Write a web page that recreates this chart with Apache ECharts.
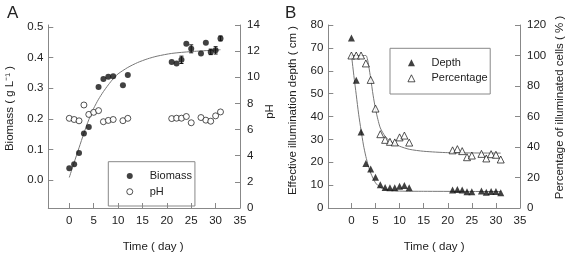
<!DOCTYPE html>
<html>
<head>
<meta charset="utf-8">
<script src="https://cdn.jsdelivr.net/npm/echarts@6/dist/echarts.min.js"></script>
<style>
html, body { margin: 0; padding: 0; background: #fff; }
#chart { width: 567px; height: 258px; }
</style>
</head>
<body>
<div id="chart"></div>
<script>
// ---- panel A: biomass and pH ----
var biomassDays = [0, 1, 2, 3, 4, 6, 7, 8, 9, 11, 12, 21, 22, 23, 24, 25, 27, 28, 29, 30, 31];
var biomass = [0.038, 0.051, 0.088, 0.152, 0.173, 0.304, 0.33, 0.338, 0.339, 0.31, 0.343, 0.386, 0.381, 0.393, 0.446, 0.429, 0.414, 0.449, 0.419, 0.424, 0.463];
var biomassErr = [0, 0, 0, 0, 0, 0, 0, 0, 0, 0, 0, 0, 0, 0.012, 0, 0.013, 0, 0, 0.009, 0.012, 0.008];
var phDays = [0, 1, 2, 3, 4, 5, 6, 7, 8, 9, 11, 12, 21, 22, 23, 24, 25, 27, 28, 29, 30, 31];
var ph = [6.86, 6.77, 6.67, 7.88, 7.16, 7.32, 7.45, 6.6, 6.7, 6.77, 6.68, 6.86, 6.84, 6.87, 6.87, 7.0, 6.52, 6.92, 6.72, 6.64, 7.05, 7.35];
var fitBiomassDays = [0, 1, 2, 3, 4, 5, 6, 7, 8, 9, 10, 12, 14, 16, 18, 21, 25, 31];
var fitBiomass = [0.008, 0.057, 0.105, 0.153, 0.197, 0.234, 0.264, 0.289, 0.311, 0.331, 0.347, 0.368, 0.384, 0.396, 0.405, 0.414, 0.42, 0.426];

// ---- panel B: illumination depth and percentage ----
var lightDays = [0, 1, 2, 3, 4, 5, 6, 7, 8, 9, 10, 11, 12, 21, 22, 23, 24, 25, 27, 28, 29, 30, 31];
var depth = [74.3, 55.8, 33.2, 19.5, 17.1, 13.4, 10.2, 9.0, 8.9, 8.9, 9.5, 9.8, 8.8, 7.9, 8.1, 7.9, 7.1, 7.1, 7.4, 6.9, 7.2, 7.2, 6.7];
var percentage = [100, 100, 100, 94.8, 84, 65.2, 48.4, 44.7, 43.4, 43, 46.3, 47.5, 42.9, 37.8, 38.6, 37.3, 33.3, 34.4, 35.5, 32.5, 35.3, 34.9, 31.8];
var fitDepthDays = [0, 0.5, 1, 1.5, 2, 2.5, 3, 3.5, 4, 5, 6, 7, 8, 10, 15, 31];
var fitDepth = [67, 58, 49.5, 41, 34, 27.5, 22.5, 18.5, 15.3, 11, 9, 8.2, 7.8, 7.4, 7.3, 7.2];
var fitPctDays = [0, 3, 3.3, 3.6, 4, 4.5, 5, 5.5, 6, 7, 8, 9, 10, 12, 15, 20, 31];
var fitPct = [100, 100, 98, 93, 85, 74, 65, 58, 52.5, 47, 44, 42, 40.5, 38.5, 37.2, 36.3, 36];

// tick labels
var dayTicks = [0, 5, 10, 15, 20, 25, 30, 35];
var biomassTicks = [0, 0.1, 0.2, 0.3, 0.4, 0.5];
var phTicks = [0, 2, 4, 6, 8, 10, 12, 14];
var depthTicks = [0, 10, 20, 30, 40, 50, 60, 70, 80];
var pctTicks = [0, 20, 40, 60, 80, 100, 120];

function pairs(xs, ys) {
    return xs.map(function (x, i) { return [x, ys[i]]; });
}

var axisColor = '#888';
var textColor = '#222';
var font = 'Liberation Sans, Arial, Helvetica, sans-serif';

function xAxisOf(grid, min, pad) {
    return {
        gridIndex: grid, type: 'value', min: min, max: 35,
        axisLine: { onZero: false, lineStyle: { color: axisColor } },
        axisTick: { inside: true, length: 5, customValues: dayTicks, lineStyle: { color: axisColor } },
        axisLabel: { customValues: dayTicks, margin: 7, fontSize: 11.5, color: textColor },
        splitLine: { show: false },
        name: 'Time ( day )', nameLocation: 'middle', nameGap: 33,
        nameTextStyle: { fontSize: 11.5, color: textColor, padding: [0, 0, 0, pad] }
    };
}

function yAxisOf(grid, pos, opts) {
    return {
        gridIndex: grid, type: 'value', position: pos, min: opts.min, max: opts.max,
        interval: opts.interval,
        axisLine: { show: true, onZero: false, lineStyle: { color: axisColor } },
        axisTick: { show: true, inside: true, length: 5, customValues: opts.ticks, lineStyle: { color: axisColor } },
        axisLabel: { customValues: opts.ticks, formatter: opts.fmt, margin: opts.margin, fontSize: 11.5, color: textColor },
        splitLine: { show: false },
        name: opts.name, nameLocation: 'middle', nameGap: opts.gap,
        // left padding pushes the rotated title up the axis
        nameTextStyle: { fontSize: 11.5, color: textColor, padding: [0, 0, 0, opts.shift] }
    };
}

function fitLine(xi, yi, xs, ys) {
    return {
        type: 'line', xAxisIndex: xi, yAxisIndex: yi, data: pairs(xs, ys),
        smooth: 0.25, showSymbol: false, silent: true, z: 1,
        lineStyle: { color: '#777', width: 1 }
    };
}

var chart = echarts.init(document.getElementById('chart'));

var option = {
    animation: false,
    textStyle: { fontFamily: font },
    grid: [
        { left: 48.3, top: 25, width: 191.7, height: 191.7 },
        { left: 328.3, top: 25, width: 191.7, height: 192.7 }
    ],
    xAxis: [xAxisOf(0, -4.3, 18), xAxisOf(1, -4.8, 20)],
    yAxis: [
        yAxisOf(0, 'left', { min: -0.092, max: 0.507, ticks: biomassTicks, margin: 5, gap: 32, shift: 16,
            fmt: function (v) { return v.toFixed(1); }, name: 'Biomass ( g L\u207B\u00B9 )' }),
        yAxisOf(0, 'right', { min: 0, max: 14, interval: 2, ticks: phTicks, margin: 7, gap: 21, shift: 10, name: 'pH' }),
        yAxisOf(1, 'left', { min: 0, max: 80, interval: 10, ticks: depthTicks, margin: 5, gap: 29, shift: 12,
            name: 'Effective illumination depth ( cm )' }),
        yAxisOf(1, 'right', { min: 0, max: 120, interval: 20, ticks: pctTicks, margin: 7, gap: 34, shift: 18,
            name: 'Percentage of illuminated cells ( % )' })
    ],
    legend: [
        {
            data: ['Biomass', 'pH'], orient: 'vertical', left: 108.3, top: 161.7,
            itemWidth: 6, itemHeight: 6, itemGap: 3.7,
            itemStyle: { borderWidth: 0.9 },
            padding: [8.3, 3, 8.3, 18],
            borderColor: axisColor, borderWidth: 1,
            textStyle: { fontSize: 11, lineHeight: 12, color: textColor, padding: [0, 0, 0, 12] }
        },
        {
            data: ['Depth', 'Percentage'], orient: 'vertical', left: 390, top: 48.3,
            itemWidth: 7, itemHeight: 7, itemGap: 3.6,
            itemStyle: { borderWidth: 0.9 },
            padding: [8.4, 2.5, 9.7, 17.5],
            borderColor: axisColor, borderWidth: 1,
            textStyle: { fontSize: 11, lineHeight: 12, color: textColor, padding: [0, 0, 0, 11.5] }
        }
    ],
    graphic: [
        { type: 'text', left: 7, top: 5, style: { text: 'A', fontSize: 17, fontFamily: font, fill: textColor } },
        { type: 'text', left: 285, top: 5, style: { text: 'B', fontSize: 17, fontFamily: font, fill: textColor } }
    ],
    series: [
        fitLine(0, 0, fitBiomassDays, fitBiomass),
        {
            type: 'custom', xAxisIndex: 0, yAxisIndex: 0, z: 3,
            data: biomassDays.map(function (d, i) { return [d, biomass[i], biomassErr[i]]; }),
            renderItem: function (params, api) {
                var x = api.value(0), y = api.value(1), e = api.value(2);
                if (!e) return null;
                var hi = api.coord([x, y + e]);
                var lo = api.coord([x, y - e]);
                var s = { stroke: '#111', lineWidth: 1 };
                return {
                    type: 'group', children: [
                        { type: 'line', shape: { x1: hi[0], y1: hi[1], x2: lo[0], y2: lo[1] }, style: s },
                        { type: 'line', shape: { x1: hi[0] - 2, y1: hi[1], x2: hi[0] + 2, y2: hi[1] }, style: s },
                        { type: 'line', shape: { x1: lo[0] - 2, y1: lo[1], x2: lo[0] + 2, y2: lo[1] }, style: s }
                    ]
                };
            }
        },
        {
            name: 'Biomass', type: 'scatter', xAxisIndex: 0, yAxisIndex: 0, z: 4,
            data: pairs(biomassDays, biomass), symbol: 'circle', symbolSize: 6,
            itemStyle: { color: '#111' }
        },
        {
            name: 'pH', type: 'scatter', xAxisIndex: 0, yAxisIndex: 1, z: 4,
            data: pairs(phDays, ph), symbol: 'circle', symbolSize: 6,
            itemStyle: { color: '#fff', borderColor: '#111', borderWidth: 0.9 }
        },
        fitLine(1, 2, fitDepthDays, fitDepth),
        fitLine(1, 3, fitPctDays, fitPct),
        {
            name: 'Depth', type: 'scatter', xAxisIndex: 1, yAxisIndex: 2, z: 4,
            data: pairs(lightDays, depth), symbol: 'triangle', symbolSize: 7,
            itemStyle: { color: '#111' }
        },
        {
            name: 'Percentage', type: 'scatter', xAxisIndex: 1, yAxisIndex: 3, z: 4,
            data: pairs(lightDays, percentage), symbol: 'triangle', symbolSize: 7,
            itemStyle: { color: '#fff', borderColor: '#111', borderWidth: 0.9 }
        }
    ]
};

chart.setOption(option);
</script>
</body>
</html>
